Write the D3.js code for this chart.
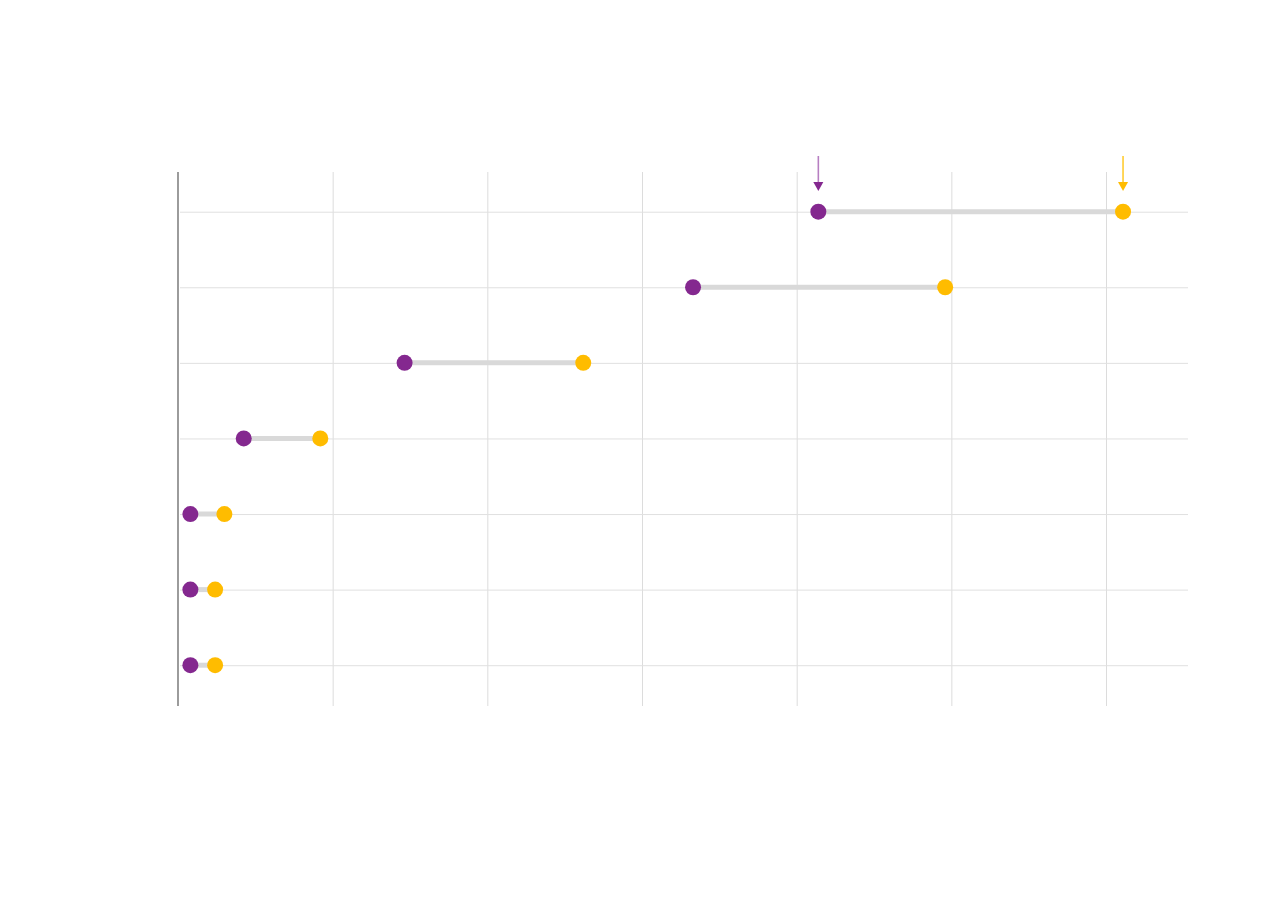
<!DOCTYPE html>
<html>
<head>
<meta charset="utf-8">
<script src="https://cdn.jsdelivr.net/npm/d3@7"></script>
<style>
  html, body { margin: 0; padding: 0; background: #fff; }
  svg { display: block; }
</style>
</head>
<body>
<svg id="chart" width="1280" height="924"></svg>
<script>
// Data (no visible labels in the reference)
const categories = ["r1", "r2", "r3", "r4", "r5", "r6", "r7"];
const startValues = [41.4, 33.3, 14.65, 4.25, 0.8, 0.8, 0.8];
const endValues   = [61.1, 49.6, 26.2, 9.2, 3.0, 2.4, 2.4];
const xTicks = [0, 10, 20, 30, 40, 50, 60];

(function () {
const svg = d3.select("#chart");
const plotLeft = 178, plotRight = 1188, plotTop = 172, plotBottom = 706;
const purple = "#84288F", yellow = "#FFBC00";

const x = d3.scaleLinear().domain([0, 65.3]).range([plotLeft, plotRight]);
const y = d3.scalePoint().domain(categories).range([173.9, 703]).padding(0.5);

// vertical grid
svg.append("g")
  .attr("transform", `translate(0,${plotBottom})`)
  .call(d3.axisBottom(x).tickValues(xTicks.slice(1)).tickSize(-(plotBottom - plotTop)).tickFormat(""))
  .call(g => g.select(".domain").remove())
  .call(g => g.selectAll("line").attr("stroke", "#dcdcdc").attr("stroke-width", 1));

// horizontal grid
svg.append("g")
  .attr("transform", `translate(${plotRight},0)`)
  .call(d3.axisLeft(y).tickSize(plotRight - plotLeft - 2).tickFormat(""))
  .call(g => g.select(".domain").remove())
  .call(g => g.selectAll("line").attr("stroke", "#e0e0e0").attr("stroke-width", 1));

// left axis line
svg.append("line")
  .attr("x1", x(0)).attr("x2", x(0)).attr("y1", plotTop).attr("y2", plotBottom)
  .attr("stroke", "#666").attr("stroke-width", 1.3);

const rows = categories.map((c, i) => ({ c, s: startValues[i], e: endValues[i] }));

// connectors
svg.append("g").selectAll("line").data(rows).join("line")
  .attr("x1", d => x(d.s)).attr("x2", d => x(d.e))
  .attr("y1", d => y(d.c)).attr("y2", d => y(d.c))
  .attr("stroke", "#d9d9d9").attr("stroke-width", 5);

// dots
svg.append("g").selectAll("circle").data(rows).join("circle")
  .attr("cx", d => x(d.s)).attr("cy", d => y(d.c)).attr("r", 8)
  .attr("fill", purple);
svg.append("g").selectAll("circle").data(rows).join("circle")
  .attr("cx", d => x(d.e)).attr("cy", d => y(d.c)).attr("r", 8)
  .attr("fill", yellow);

// arrows above first row
const arrows = [
  { v: startValues[0], color: purple, lineColor: "#b77fc2" },
  { v: endValues[0], color: yellow, lineColor: "#ffcc33" }
];
const ag = svg.append("g");
arrows.forEach(a => {
  const cx = x(a.v);
  ag.append("line")
    .attr("x1", cx).attr("x2", cx).attr("y1", 156).attr("y2", 184)
    .attr("stroke", a.lineColor).attr("stroke-width", 1.6);
  ag.append("path")
    .attr("d", `M${cx - 5},${182} L${cx + 5},${182} L${cx},${191} Z`)
    .attr("fill", a.color);
});
})();
</script>
</body>
</html>
